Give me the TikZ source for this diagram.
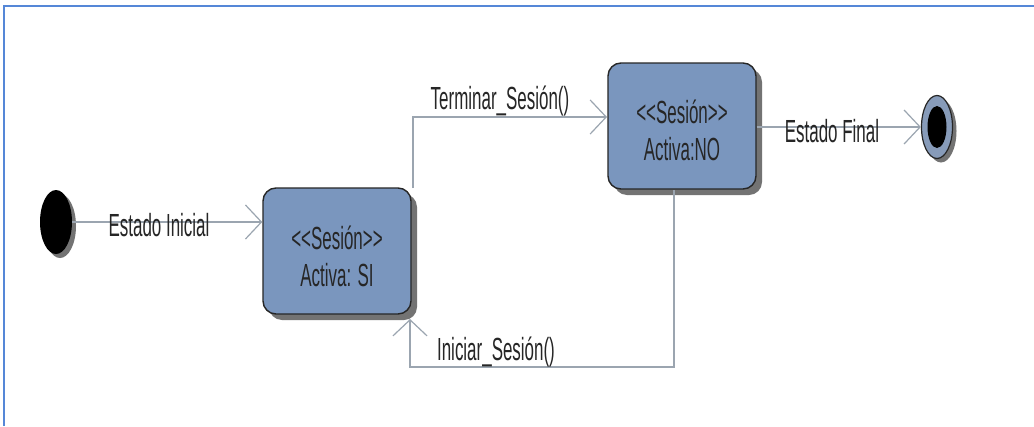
\documentclass[tikz,border=0pt]{standalone}
\usepackage{fontspec}
\usepackage{graphicx}
\setmainfont{Liberation Sans}
\usetikzlibrary{shapes.geometric,shadows,arrows.meta}
\definecolor{boxfill}{RGB}{122,150,190}
\definecolor{linegray}{RGB}{155,165,176}
\definecolor{frameblue}{RGB}{85,135,215}
\definecolor{shadowgray}{RGB}{115,115,115}
\definecolor{ringfill}{RGB}{135,155,185}
\newcommand{\nar}[1]{\scalebox{0.53}[1]{#1}}
\begin{document}
\begin{tikzpicture}[x=1pt,y=-1pt,
  every node/.style={font=\fontsize{32}{36}\selectfont, text=black!85},
  statebox/.style={draw=black!85, line width=1.4pt, fill=boxfill, rounded corners=13pt,
    minimum width=148pt, minimum height=126pt, align=center, inner sep=0pt,
    drop shadow={shadow xshift=6pt, shadow yshift=-6pt, fill=shadowgray, opacity=1}},
  conn/.style={draw=linegray, line width=1.3pt},
  tip/.style={-{Straight Barb[length=16pt,width=34pt,line width=1.2pt]}},
  lbl/.style={inner sep=0pt}]
\useasboundingbox (0,0) rectangle (1034,426);
\fill[white] (0,0) rectangle (1034,426);
% frame
\draw[frameblue, line width=2.5pt] (4,426) -- (4,6) -- (1034,6);
% states
\node[ellipse, fill=black, minimum width=32pt, minimum height=64pt, inner sep=0pt,
  drop shadow={shadow xshift=4pt, shadow yshift=-4pt, fill=shadowgray, opacity=1}] (init) at (56,222) {};
\node[statebox] (si) at (337,251) {};
\node[statebox] (no) at (682,126) {};
\node[ellipse, draw=black!85, line width=1.2pt, fill=ringfill, minimum width=31pt, minimum height=63pt, inner sep=0pt,
  drop shadow={shadow xshift=4pt, shadow yshift=-4pt, fill=shadowgray, opacity=1}] (fin) at (937,127) {};
\node[ellipse, fill=black, minimum width=19pt, minimum height=42pt, inner sep=0pt] (fininner) at (fin.center) {};
% state texts
\node[lbl] (si1) at (337,238) {\nar{<{}<Sesión>{}>}};
\node[lbl] (si2) at (337,275) {\nar{Activa: SI}};
\node[lbl] (no1) at (682,112) {\nar{<{}<Sesión>{}>}};
\node[lbl] (no2) at (682,149) {\nar{Activa:NO}};
% connector anchors
\coordinate (t0) at (413,188);
\coordinate (t1) at (413,117);
\coordinate (t2) at (607,117);
\coordinate (i0) at (674,190);
\coordinate (i1) at (674,367);
\coordinate (i2) at (410,367);
\coordinate (i3) at (410,319);
% connectors
\draw[conn,tip] (init.east |- 0,222) -- (si.west |- 0,222);
\draw[conn,tip] (t0) -- (t1) -- (t2);
\draw[conn,tip] (i0) -- (i1) -- (i2) -- (i3);
\draw[conn,tip] (no.east |- 0,127) -- (fin.west);
% labels
\node[lbl] (l1) at (159,225) {\nar{Estado Inicial}};
\node[lbl] (l2) at (500,101) {\nar{Terminar\_Sesión()}};
\node[lbl] (l3) at (496,352) {\nar{Iniciar\_Sesión()}};
\node[lbl] (l4) at (832,131) {\nar{Estado Final}};
\end{tikzpicture}
\end{document}
